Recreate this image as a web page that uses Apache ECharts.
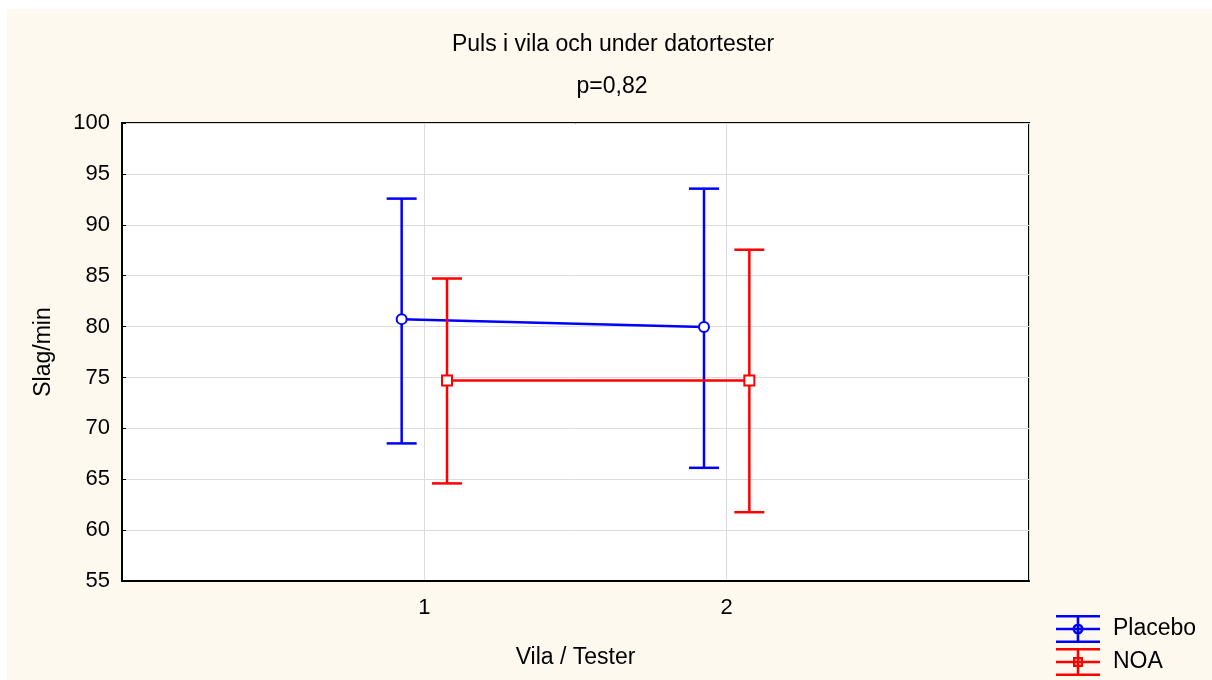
<!DOCTYPE html>
<html>
<head>
<meta charset="utf-8">
<script src="https://cdn.jsdelivr.net/npm/echarts@6/dist/echarts.min.js"></script>
<style>
  html, body { margin: 0; padding: 0; background: #ffffff; }
  #chart { width: 1212px; height: 680px; }
</style>
</head>
<body>
<div id="chart"></div>
<script>
// ---- Data ----
const categories = [1, 2];
const xTickLabels = ['1', '2'];
const seriesNames = ['Placebo', 'NOA'];
const placeboMean = [80.73, 79.95];
const placeboLow  = [68.52, 66.12];
const placeboHigh = [92.57, 93.55];
const noaMean = [74.69, 74.69];
const noaLow  = [64.59, 61.76];
const noaHigh = [84.72, 87.55];
const yMin = 55, yMax = 100, yStep = 5;
const xMin = 0, xMax = 3;

// ---- Styling ----
const FONT = "'Liberation Sans', Arial, sans-serif";
const BLUE = '#0000ff';
const RED = '#ff0000';
const OFFSET = 0.075; // horizontal dodge of the two groups

function points(mean, shift) {
  return categories.map((c, i) => [c + shift, mean[i]]);
}
function bars(low, high, shift) {
  return categories.map((c, i) => [c + shift, low[i], high[i]]);
}
function errorBarRender(color) {
  return function (params, api) {
    const x = api.value(0);
    const pLo = api.coord([x, api.value(1)]);
    const pHi = api.coord([x, api.value(2)]);
    const hw = 15;
    const st = { stroke: color, lineWidth: 2.5 };
    return {
      type: 'group',
      children: [
        { type: 'line', shape: { x1: pHi[0], y1: pHi[1], x2: pLo[0], y2: pLo[1] }, style: st },
        { type: 'line', shape: { x1: pHi[0] - hw, y1: pHi[1], x2: pHi[0] + hw, y2: pHi[1] }, style: st },
        { type: 'line', shape: { x1: pLo[0] - hw, y1: pLo[1], x2: pLo[0] + hw, y2: pLo[1] }, style: st }
      ]
    };
  };
}

const barsPath = 'M0 0 H44 V2.6 H0 Z M0 12.7 H44 V15.3 H0 Z M0 25.4 H44 V28 H0 Z M20.7 0 H23.3 V28 H20.7 Z ';
const circleIcon = 'path://' + barsPath +
  'M16.5 14 A5.5 5.5 0 1 1 27.5 14 A5.5 5.5 0 1 1 16.5 14 Z M19 14 A3 3 0 1 0 25 14 A3 3 0 1 0 19 14 Z';
const squareIcon = 'path://' + barsPath +
  'M17 9 H27 V19 H17 Z M19.3 11.3 V16.7 H24.7 V11.3 Z';

const chart = echarts.init(document.getElementById('chart'), null, { renderer: 'canvas' });

const option = {
  backgroundColor: '#ffffff',
  animation: false,
  graphic: {
    elements: [{
      type: 'rect', z: -100, silent: true,
      shape: { x: 7, y: 9, width: 1205, height: 671 },
      style: { fill: '#fef9ef' }
    }]
  },
  title: [
    {
      text: 'Puls i vila och under datortester',
      left: 613, top: 33, textAlign: 'center', padding: 0,
      textStyle: { fontFamily: FONT, fontSize: 23, fontWeight: 'normal', color: '#000' }
    },
    {
      text: 'p=0,82',
      left: 612, top: 75, textAlign: 'center', padding: 0,
      textStyle: { fontFamily: FONT, fontSize: 23, fontWeight: 'normal', color: '#000' }
    }
  ],
  legend: {
    orient: 'vertical',
    left: 1056, top: 615,
    padding: 0,
    itemWidth: 44, itemHeight: 28, itemGap: 5,
    textStyle: { fontFamily: FONT, fontSize: 23, color: '#000', padding: [0, 0, 0, 8] },
    data: [
      { name: seriesNames[0], icon: circleIcon },
      { name: seriesNames[1], icon: squareIcon }
    ]
  },
  grid: {
    left: 122, right: 183, top: 123, bottom: 99,
    show: true, backgroundColor: '#ffffff', borderColor: '#000', borderWidth: 2
  },
  xAxis: {
    type: 'value', min: xMin, max: xMax, interval: 1,
    name: 'Vila / Tester', nameLocation: 'middle', nameGap: 65,
    nameTextStyle: { fontFamily: FONT, fontSize: 23, color: '#000' },
    axisLine: { show: true, lineStyle: { color: '#000', width: 2 } },
    axisTick: { show: false },
    axisLabel: {
      fontFamily: FONT, fontSize: 22, color: '#000', margin: 16,
      formatter: v => { const i = categories.indexOf(v); return i >= 0 ? xTickLabels[i] : ''; }
    },
    splitLine: { show: true, lineStyle: { color: '#dcdcdc', width: 1 } }
  },
  yAxis: {
    type: 'value', min: yMin, max: yMax, interval: yStep,
    name: 'Slag/min', nameLocation: 'middle', nameGap: 67,
    nameTextStyle: { fontFamily: FONT, fontSize: 23, color: '#000' },
    axisLine: { show: true, lineStyle: { color: '#000', width: 2 } },
    axisTick: { show: true, inside: true, length: 4, lineStyle: { color: '#000', width: 1 } },
    axisLabel: { fontFamily: FONT, fontSize: 22, color: '#000', margin: 12 },
    splitLine: { show: true, lineStyle: { color: '#dcdcdc', width: 1 } }
  },
  series: [
    {
      name: seriesNames[0], type: 'custom', z: 2,
      renderItem: errorBarRender(BLUE),
      encode: { x: 0, y: [1, 2] },
      itemStyle: { color: BLUE },
      data: bars(placeboLow, placeboHigh, -OFFSET)
    },
    {
      name: seriesNames[0], type: 'line', z: 3,
      data: points(placeboMean, -OFFSET),
      symbol: 'emptyCircle', symbolSize: 10,
      lineStyle: { color: BLUE, width: 2.5 },
      itemStyle: { color: BLUE, borderWidth: 2.5 }
    },
    {
      name: seriesNames[1], type: 'custom', z: 4,
      renderItem: errorBarRender(RED),
      encode: { x: 0, y: [1, 2] },
      itemStyle: { color: RED },
      data: bars(noaLow, noaHigh, OFFSET)
    },
    {
      name: seriesNames[1], type: 'line', z: 5,
      data: points(noaMean, OFFSET),
      symbol: 'emptyRect', symbolSize: 10,
      lineStyle: { color: RED, width: 2.5 },
      itemStyle: { color: RED, borderWidth: 2.5 }
    }
  ]
};
chart.setOption(option);
</script>
</body>
</html>
